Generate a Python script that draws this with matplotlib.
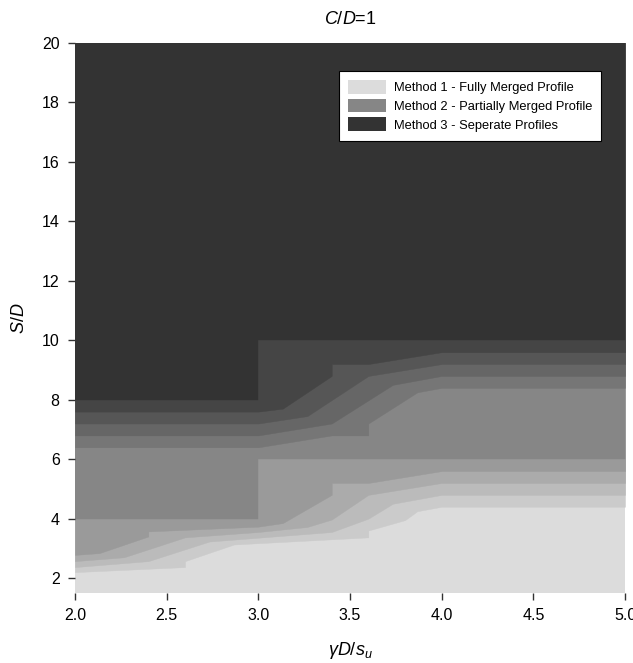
import matplotlib.pyplot as plt
from matplotlib.patches import Patch

plt.rcParams['font.family'] = 'Liberation Sans'
plt.rcParams['mathtext.fontset'] = 'custom'
plt.rcParams['mathtext.rm'] = 'Liberation Sans'
plt.rcParams['mathtext.it'] = 'Liberation Sans:italic'

# contour band boundaries (S/D) against gamma*D/s_u, levels 1.2 .. 3.0 in steps of 0.2
b1_x = [2.0, 2.6, 2.6, 2.867, 3.6, 3.6, 3.8, 3.867, 4.0, 5.0]
b1_y = [2.2, 2.37, 2.57, 3.13, 3.37, 3.6, 3.95, 4.25, 4.4, 4.4]
b2_x = [2.0, 2.4, 2.733, 3.4, 3.6, 3.733, 4.0, 5.0]
b2_y = [2.37, 2.57, 3.23, 3.55, 4.0, 4.5, 4.8, 4.8]
b3_x = [2.0, 2.267, 2.6, 3.0, 3.267, 3.4, 3.6, 4.0, 5.0]
b3_y = [2.57, 2.7, 3.37, 3.55, 3.72, 3.97, 4.8, 5.2, 5.2]
b4_x = [2.0, 2.133, 2.4, 2.4, 3.0, 3.133, 3.4, 3.4, 3.6, 4.0, 5.0]
b4_y = [2.78, 2.84, 3.4, 3.57, 3.73, 3.85, 4.8, 5.2, 5.2, 5.6, 5.6]
b5_x = [2.0, 3.0, 3.0, 5.0]
b5_y = [4.0, 4.0, 6.0, 6.0]
b6_x = [2.0, 3.0, 3.4, 3.6, 3.6, 3.867, 4.0, 5.0]
b6_y = [6.4, 6.4, 6.8, 6.8, 7.2, 8.25, 8.4, 8.4]
b7_x = [2.0, 3.0, 3.4, 3.733, 4.0, 5.0]
b7_y = [6.8, 6.8, 7.2, 8.5, 8.8, 8.8]
b8_x = [2.0, 3.0, 3.267, 3.6, 4.0, 5.0]
b8_y = [7.2, 7.2, 7.45, 8.8, 9.2, 9.2]
b9_x = [2.0, 3.0, 3.133, 3.4, 3.4, 3.6, 4.0, 5.0]
b9_y = [7.6, 7.6, 7.7, 8.8, 9.2, 9.2, 9.6, 9.6]
b10_x = [2.0, 3.0, 3.0, 5.0]
b10_y = [8.0, 8.0, 10.0, 10.0]

band_colors = ['#dcdcdc', '#cbcbcb', '#bbbbbb', '#ababab', '#9a9a9a', '#868686',
               '#767676', '#666666', '#565656', '#454545', '#333333']
method_labels = ['Method 1 - Fully Merged Profile',
                 'Method 2 - Partially Merged Profile',
                 'Method 3 - Seperate Profiles']
method_colors = [band_colors[0], band_colors[5], band_colors[10]]

boundaries = [(b1_x, b1_y), (b2_x, b2_y), (b3_x, b3_y), (b4_x, b4_y), (b5_x, b5_y),
              (b6_x, b6_y), (b7_x, b7_y), (b8_x, b8_y), (b9_x, b9_y), (b10_x, b10_y)]

fig = plt.figure(figsize=(6.33, 6.63), dpi=100)
ax = fig.add_axes([0.1185, 0.1057, 0.8689, 0.8294])
ax.set_facecolor(band_colors[0])

# paint each band from its lower boundary up to the top, lighter first
for (bx, by), c in zip(boundaries, band_colors[1:]):
    ax.fill_between(bx, by, 20, color=c, linewidth=0.3, edgecolor=c)

ax.set_xlim(2, 5)
ax.set_ylim(1.5, 20)
ax.set_xticks([2.0, 2.5, 3.0, 3.5, 4.0, 4.5, 5.0])
ax.set_xticklabels(['2.0', '2.5', '3.0', '3.5', '4.0', '4.5', '5.0'])
ax.set_yticks(range(2, 21, 2))
for s in ax.spines.values():
    s.set_visible(False)
ax.tick_params(direction='out', length=5, width=1, color='#333333', labelsize=11.5, pad=6)

ax.set_title(r'$C/D$=1', fontsize=13, pad=14)
ax.set_xlabel(r'$\gamma D/s_u$', fontsize=13, labelpad=12)
ax.set_ylabel(r'$S/D$', fontsize=13, labelpad=10)

handles = [Patch(facecolor=c, edgecolor='none') for c in method_colors]
leg = ax.legend(handles, method_labels, loc='upper right', bbox_to_anchor=(0.968, 0.961),
                fontsize=9.3, frameon=True, fancybox=False, framealpha=1,
                edgecolor='black', handlelength=2.9, handleheight=1.25,
                labelspacing=0.35, borderpad=0.7, handletextpad=0.6)
leg.get_frame().set_linewidth(0.8)

fig.savefig('out.png', dpi=100)
